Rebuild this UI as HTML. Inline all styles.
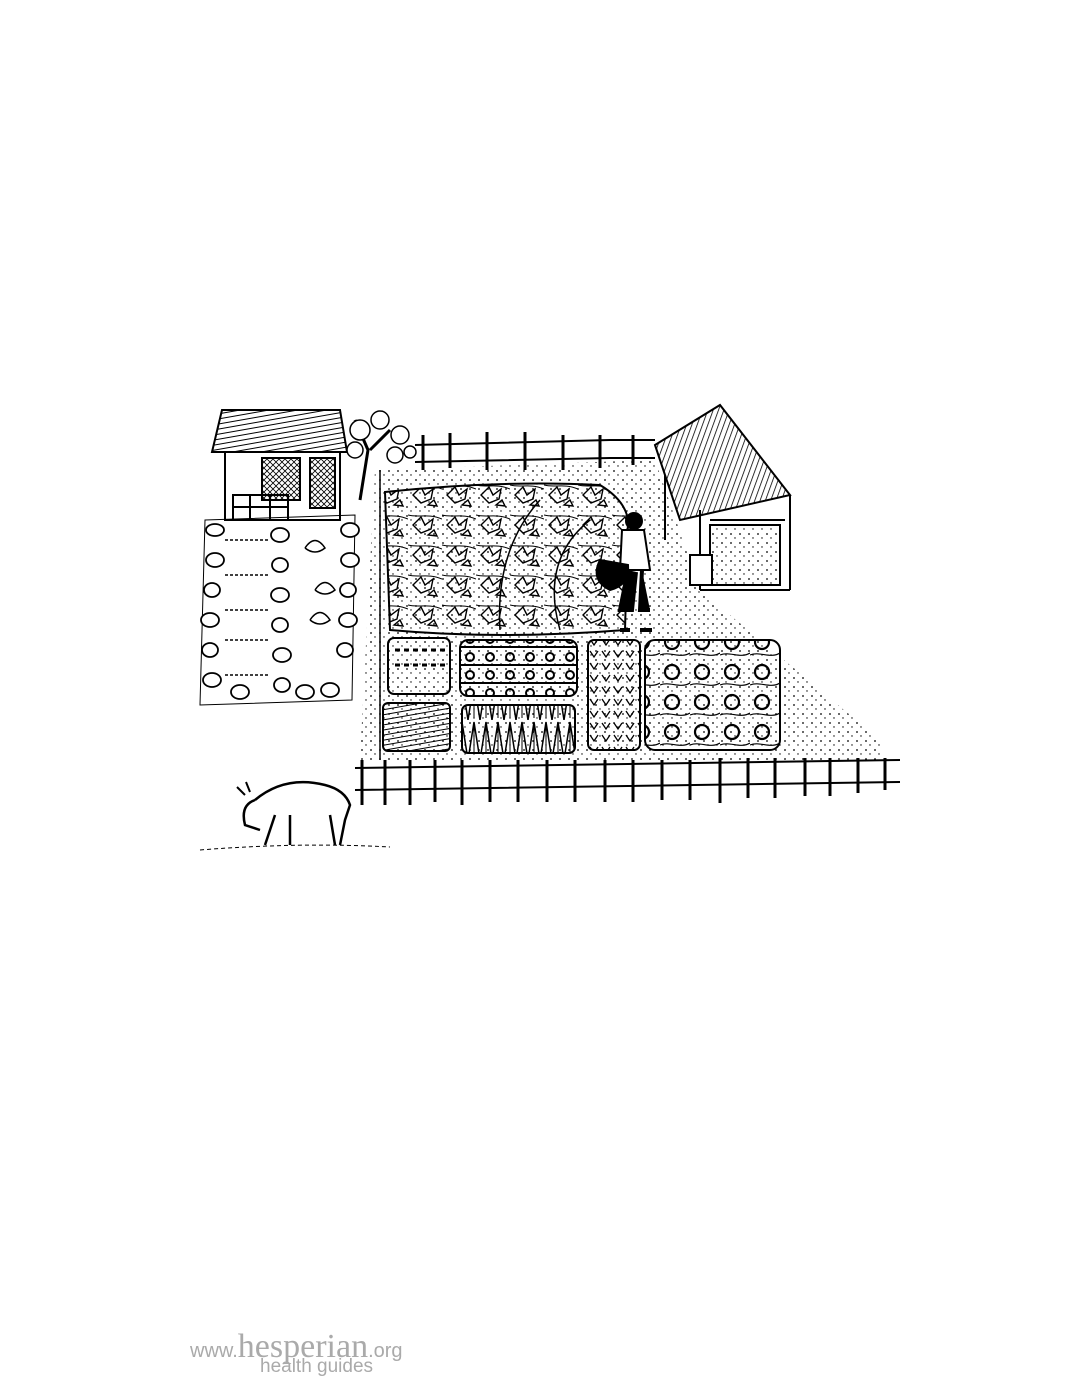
<!DOCTYPE html>
<html><head><style>
html,body{margin:0;padding:0;background:#fff;width:1088px;height:1388px;overflow:hidden}
.logo{position:absolute;left:190px;top:1328px;font-family:"Liberation Serif",serif;color:#aaa}
</style></head><body>
<svg width="1088" height="1388" style="position:absolute;left:0;top:0" xmlns="http://www.w3.org/2000/svg">
<defs>
<pattern id="dots" width="9" height="9" patternUnits="userSpaceOnUse"><circle cx="2" cy="3" r="0.9" fill="#000"/><circle cx="6" cy="7" r="0.7" fill="#000"/></pattern>
<pattern id="hatch" width="5" height="5" patternUnits="userSpaceOnUse" patternTransform="rotate(80)"><line x1="0" y1="0" x2="0" y2="5" stroke="#000" stroke-width="2"/></pattern>
<pattern id="hatch2" width="5" height="5" patternUnits="userSpaceOnUse" patternTransform="rotate(20)"><line x1="0" y1="0" x2="0" y2="5" stroke="#000" stroke-width="1.6"/></pattern>
<pattern id="mesh" width="6" height="6" patternUnits="userSpaceOnUse"><path d="M0 0L6 6M6 0L0 6" stroke="#000" stroke-width="0.8"/></pattern>
<pattern id="leaf" width="34" height="30" patternUnits="userSpaceOnUse"><path d="M5 15l8-8 4 8 8-6-2 10-10 4z M20 25l6-5 3 6z" fill="none" stroke="#000" stroke-width="1.4"/><path d="M0 5c10 3 20 -2 34 4" fill="none" stroke="#000" stroke-width="1"/></pattern>
<pattern id="heart" width="12" height="12" patternUnits="userSpaceOnUse"><path d="M2 3l4 6 4-6" fill="none" stroke="#000" stroke-width="1.3"/></pattern>
<pattern id="rose" width="30" height="30" patternUnits="userSpaceOnUse"><circle cx="12" cy="12" r="7" fill="none" stroke="#000" stroke-width="2.2"/><path d="M0 25c10-4 20 4 30-2" fill="none" stroke="#000" stroke-width="1.2"/></pattern>
<pattern id="rows" width="20" height="18" patternUnits="userSpaceOnUse"><circle cx="10" cy="9" r="4" fill="none" stroke="#000" stroke-width="2"/><line x1="0" y1="17" x2="20" y2="17" stroke="#000" stroke-width="2"/></pattern>
<pattern id="tri" width="12" height="40" patternUnits="userSpaceOnUse"><path d="M0 40L6 2L12 40" fill="none" stroke="#000" stroke-width="1.5"/><line x1="6" y1="5" x2="6" y2="38" stroke="#000"/></pattern>
</defs>
<g stroke="#000" fill="none" stroke-width="2">
<!-- ground dots -->
<path d="M375 470L655 460L700 590L880 740L880 760L360 760Z" fill="url(#dots)" stroke="none"/>
<!-- left hut -->
<path d="M212 452L222 410L340 410L347 452Z" fill="url(#hatch)"/>
<rect x="225" y="452" width="115" height="68"/>
<rect x="262" y="458" width="38" height="42" fill="url(#mesh)"/>
<rect x="310" y="458" width="25" height="50" fill="url(#mesh)"/>
<rect x="233" y="495" width="55" height="25"/>
<path d="M233 507h55M250 495v25M270 495v25"/>
<!-- tree -->
<path d="M360 500L368 450L355 420M370 450L390 430" stroke-width="3"/>
<g fill="#fff" stroke-width="1.5"><circle cx="360" cy="430" r="10"/><circle cx="380" cy="420" r="9"/><circle cx="400" cy="435" r="9"/><circle cx="395" cy="455" r="8"/><circle cx="355" cy="450" r="8"/><circle cx="410" cy="452" r="6"/></g>
<!-- top fence -->
<path d="M415 445L610 440L655 440M415 462L610 458L655 458"/>
<g stroke-width="3"><path d="M423 435v35M450 433v35M487 432v38M525 432v38M563 435v35M600 435v33M633 435v30"/></g>
<!-- shed -->
<path d="M655 445L720 405L790 495L680 520Z" fill="url(#hatch2)"/>
<path d="M665 475V540M700 510V590M790 495V590M700 590H790M710 520H785"/>
<rect x="710" y="525" width="70" height="60" fill="url(#dots)"/>
<rect x="690" y="555" width="22" height="30" fill="#fff"/>
<!-- main leaf plot -->
<path d="M385 492Q500 480 600 485Q625 500 628 520L625 630Q500 640 390 630Z" fill="url(#leaf)"/>
<path d="M500 630Q495 550 540 500M560 630Q540 560 590 520" stroke-width="1.5"/>
<!-- person -->
<circle cx="634" cy="521" r="8" fill="#000"/>
<path d="M622 530h22l6 40h-30z" fill="#fff"/>
<path d="M628 570l-8 40h12l4-38M642 570l-2 40 10 0" fill="#000" stroke-width="4"/>
<path d="M600 560q-10 20 10 30 20-5 18-25z" fill="#000"/>
<path d="M620 630h10M640 630h12" stroke-width="4"/>
<!-- beds -->
<rect x="388" y="638" width="62" height="56" rx="6"/>
<path d="M395 650h50M395 665h50" stroke-dasharray="5 4" stroke-width="3"/>
<rect x="460" y="640" width="117" height="56" rx="8" fill="url(#rows)"/>
<rect x="588" y="640" width="52" height="110" rx="6" fill="url(#heart)"/>
<rect x="645" y="640" width="135" height="110" rx="10" fill="url(#rose)"/>
<rect x="383" y="703" width="67" height="48" rx="5" fill="url(#hatch)"/>
<rect x="462" y="705" width="113" height="48" rx="6" fill="url(#tri)"/>
<!-- chicken pen -->
<path d="M205 520L355 515L352 700L200 705Z" stroke-width="1"/>
<g fill="#fff" stroke-width="1.8">
<ellipse cx="215" cy="530" rx="9" ry="6"/><ellipse cx="215" cy="560" rx="9" ry="7"/><ellipse cx="212" cy="590" rx="8" ry="7"/><ellipse cx="210" cy="620" rx="9" ry="7"/><ellipse cx="210" cy="650" rx="8" ry="7"/><ellipse cx="212" cy="680" rx="9" ry="7"/>
<ellipse cx="280" cy="535" rx="9" ry="7"/><ellipse cx="280" cy="565" rx="8" ry="7"/><ellipse cx="280" cy="595" rx="9" ry="7"/><ellipse cx="280" cy="625" rx="8" ry="7"/><ellipse cx="282" cy="655" rx="9" ry="7"/><ellipse cx="282" cy="685" rx="8" ry="7"/>
<ellipse cx="350" cy="530" rx="9" ry="7"/><ellipse cx="350" cy="560" rx="9" ry="7"/><ellipse cx="348" cy="590" rx="8" ry="7"/><ellipse cx="348" cy="620" rx="9" ry="7"/><ellipse cx="345" cy="650" rx="8" ry="7"/><ellipse cx="330" cy="690" rx="9" ry="7"/><ellipse cx="305" cy="692" rx="9" ry="7"/><ellipse cx="240" cy="692" rx="9" ry="7"/>
</g>
<g stroke-width="1.5"><path d="M305 548q10-15 20 0q-10 8-20 0M315 590q10-15 20 0q-10 8-20 0M310 620q10-15 20 0q-10 8-20 0"/>
<path d="M225 540h45M225 575h45M225 610h45M225 640h45M225 675h45" stroke-dasharray="3 2"/></g>
<!-- bottom fence -->
<path d="M355 768L900 760M355 790L900 782" stroke-width="2"/>
<g stroke-width="3"><path d="M362 760v45M385 760v45M410 760v45M435 760v42M462 760v45M490 760v42M518 760v42M547 760v42M575 760v42M605 760v42M633 760v42M662 760v40M690 760v40M720 758v45M748 758v40M775 758v40M805 758v38M830 758v38M858 758v35M885 758v32"/></g>
<path d="M380 470v290" stroke-width="1.5"/>
<!-- goat -->
<path d="M255 800q30-25 70-15q20 5 25 20l-5 15-5 25M330 815l5 30M275 815l-10 30M290 815l0 30M255 800q-15 5-10 25l15 5" stroke-width="2.5"/>
<path d="M245 795l-8-8M250 792l-4-10"/>
<path d="M200 850q100-8 190-3" stroke-width="1" stroke-dasharray="4 3"/>
</g>
</svg>
<div class="logo"><span style="font-size:20px;font-family:'Liberation Sans',sans-serif">www.</span><span style="font-size:34px">hesperian</span><span style="font-size:20px;font-family:'Liberation Sans',sans-serif">.org</span>
<div style="font-family:'Liberation Sans',sans-serif;font-size:19px;margin-left:70px;margin-top:-10px">health guides</div></div>
</body></html>
